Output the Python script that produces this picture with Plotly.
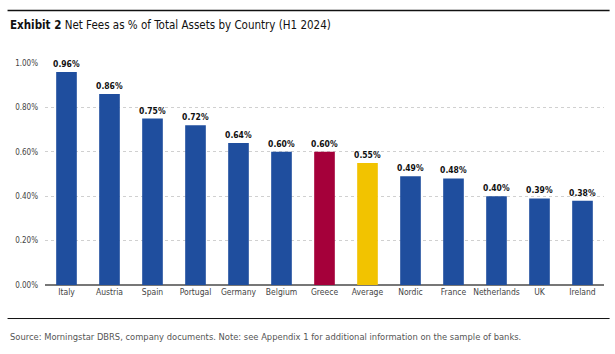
import plotly.graph_objects as go

countries = ["Italy", "Austria", "Spain", "Portugal", "Germany", "Belgium", "Greece",
             "Average", "Nordic", "France", "Netherlands", "UK", "Ireland"]
values = [0.96, 0.86, 0.75, 0.72, 0.64, 0.60, 0.60, 0.55, 0.49, 0.48, 0.40, 0.39, 0.38]
blue, red, yellow = "#1f4e9e", "#a5003a", "#f2c300"
colors = [red if c == "Greece" else yellow if c == "Average" else blue for c in countries]
yticks = [0.0, 0.2, 0.4, 0.6, 0.8, 1.0]

FONT = "DejaVu Sans Condensed, Roboto Condensed, Roboto, sans-serif"

fig = go.Figure(go.Bar(
    x=countries, y=values, marker=dict(color=colors, line=dict(width=0)),
    text=[f"<b>{v:.2f}%</b>" for v in values], textposition="outside", constraintext="none",
    textfont=dict(family=FONT, size=8.5, color="#111"), cliponaxis=False,
))

fig.update_layout(
    width=615, height=354, margin=dict(l=45, r=11, t=63, b=69),
    paper_bgcolor="white", plot_bgcolor="white", bargap=0.52, showlegend=False,
    font=dict(family=FONT, size=9, color="#444"),
    xaxis=dict(showgrid=False, tickfont=dict(size=8.5, color="#444"), ticks="", tickangle=0,
               showline=False, fixedrange=True),
    yaxis=dict(range=[0, 1.0], tickvals=yticks, ticktext=[f"{t:.2f}%" for t in yticks],
               showgrid=True, gridcolor="#d0d0d0", griddash="dot", gridwidth=1,
               zeroline=True, zerolinecolor="#777", zerolinewidth=1.5,
               tickfont=dict(size=8, color="#444"), ticks="", ticklabelstandoff=6),
    shapes=[
        dict(type="line", xref="paper", yref="paper", x0=-0.067, x1=1.01, y0=1.236, y1=1.236,
             line=dict(color="#111", width=1.5)),
        dict(type="line", xref="paper", yref="paper", x0=-0.067, x1=1.01, y0=-0.151, y1=-0.151,
             line=dict(color="#111", width=1)),
    ],
    annotations=[
        dict(xref="paper", yref="paper", x=-0.067, y=1.17, xanchor="left", yanchor="middle",
             showarrow=False, text="<b>Exhibit 2</b> Net Fees as % of Total Assets by Country (H1 2024)",
             font=dict(family=FONT, size=11.5, color="#111")),
        dict(xref="paper", yref="paper", x=-0.067, y=-0.23, xanchor="left", yanchor="middle",
             showarrow=False,
             text="Source: Morningstar DBRS, company documents. Note: see Appendix 1 for additional information on the sample of banks.",
             font=dict(family=FONT, size=9.3, color="#555")),
    ],
)

fig.write_html("out.html")
